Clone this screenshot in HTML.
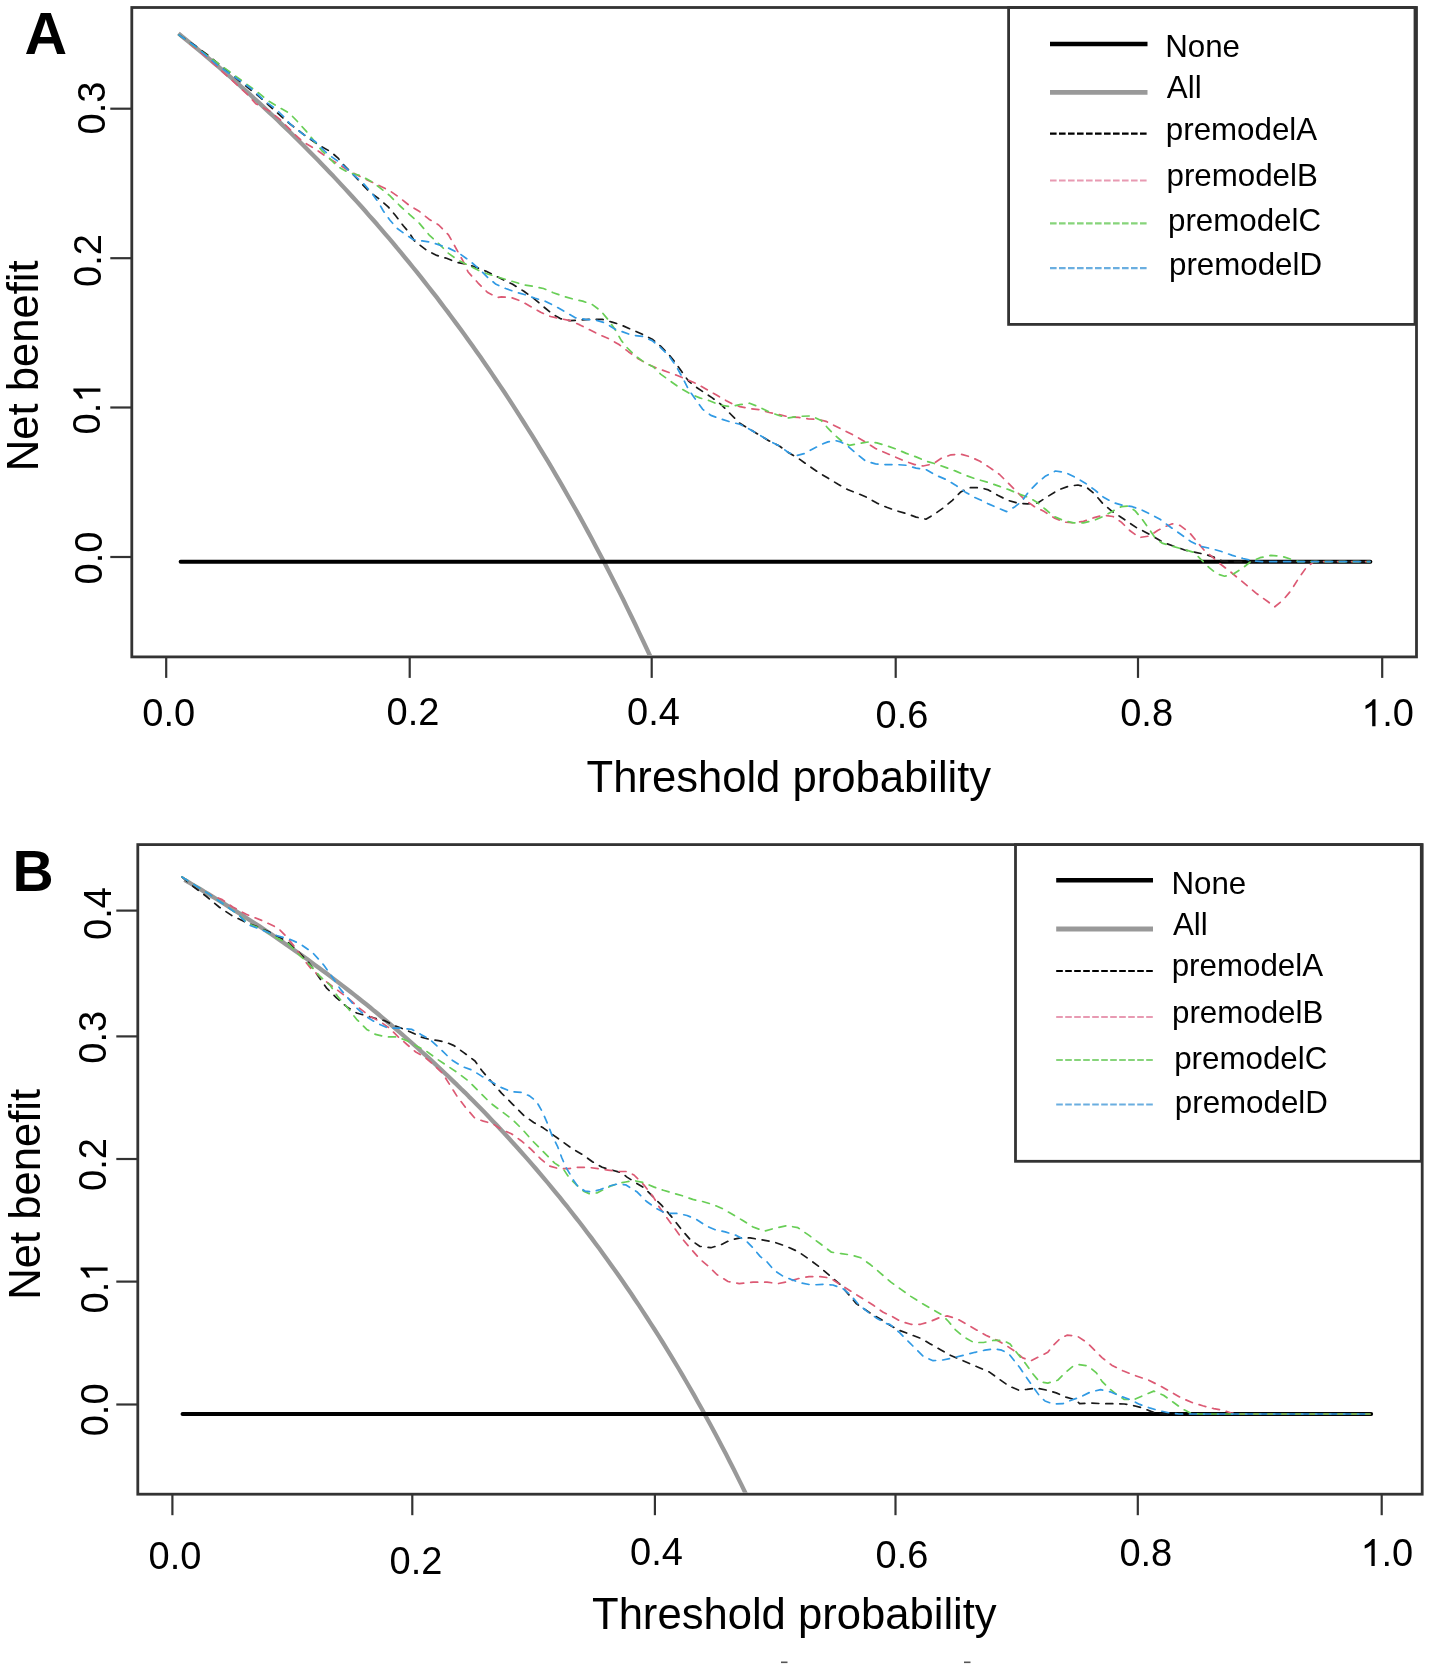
<!DOCTYPE html><html><head><meta charset="utf-8"><style>html,body{margin:0;padding:0;background:#fff;}svg{display:block;filter:blur(0.35px);}text{font-family:"Liberation Sans",sans-serif;fill:#000;}</style></head><body>
<svg width="1430" height="1670" viewBox="0 0 1430 1670">
<rect width="1430" height="1670" fill="#fff"/>
<defs><clipPath id="clipA"><rect x="133" y="9" width="1282" height="646.5"/></clipPath><clipPath id="clipB"><rect x="139" y="846.3" width="1281" height="646.5"/></clipPath></defs>
<rect x="131.8" y="7.5" width="1284.7" height="649.4" fill="none" stroke="#333" stroke-width="2.8"/>
<line x1="110.3" y1="557" x2="131.8" y2="557" stroke="#333" stroke-width="2.2"/>
<text transform="translate(102.1,584.5) rotate(-90)" font-size="38" font-weight="normal">0.0</text>
<line x1="110.3" y1="407.5" x2="131.8" y2="407.5" stroke="#333" stroke-width="2.2"/>
<g transform="translate(100.4,434.5) rotate(-90)"><text x="0" y="0" font-size="38" font-weight="normal">0. </text><path d="M42.8,0 L46.1,0 L46.1,-27 L43.5,-27 L42,-24.9 L39.3,-22.5 L36.1,-20.7 L36.1,-17.4 L38.9,-18.6 L42.8,-21.1 Z" fill="#000"/></g>
<line x1="110.3" y1="258.2" x2="131.8" y2="258.2" stroke="#333" stroke-width="2.2"/>
<text transform="translate(100.8,287) rotate(-90)" font-size="38" font-weight="normal">0.2</text>
<line x1="110.3" y1="108.7" x2="131.8" y2="108.7" stroke="#333" stroke-width="2.2"/>
<text transform="translate(105.2,134.5) rotate(-90)" font-size="38" font-weight="normal">0.3</text>
<line x1="166.2" y1="656.9" x2="166.2" y2="677.9" stroke="#333" stroke-width="2.2"/>
<text transform="translate(142.3,725.6)" font-size="38" font-weight="normal">0.0</text>
<line x1="409.7" y1="656.9" x2="409.7" y2="677.9" stroke="#333" stroke-width="2.2"/>
<text transform="translate(386.5,725.3)" font-size="38" font-weight="normal">0.2</text>
<line x1="651.7" y1="656.9" x2="651.7" y2="677.9" stroke="#333" stroke-width="2.2"/>
<text transform="translate(627,724.9)" font-size="38" font-weight="normal">0.4</text>
<line x1="895.7" y1="656.9" x2="895.7" y2="677.9" stroke="#333" stroke-width="2.2"/>
<text transform="translate(875.5,727.6)" font-size="38" font-weight="normal">0.6</text>
<line x1="1138" y1="656.9" x2="1138" y2="677.9" stroke="#333" stroke-width="2.2"/>
<text transform="translate(1120.2,726.3)" font-size="38" font-weight="normal">0.8</text>
<line x1="1382.2" y1="656.9" x2="1382.2" y2="677.9" stroke="#333" stroke-width="2.2"/>
<g transform="translate(1361.1,726.3)"><text x="0" y="0" font-size="38" font-weight="normal"> .0</text><path d="M11.1,0 L14.4,0 L14.4,-27 L11.9,-27 L10.3,-24.9 L7.6,-22.5 L4.4,-20.7 L4.4,-17.4 L7.2,-18.6 L11.1,-21.1 Z" fill="#000"/></g>
<text transform="translate(586.5,791.7)" font-size="43.6" font-weight="normal">Threshold probability</text>
<text transform="translate(38.2,471.2) rotate(-90)" font-size="43.6" font-weight="normal">Net benefit</text>
<text transform="translate(24.5,54.2)" font-size="59" font-weight="bold">A</text>
<g clip-path="url(#clipA)">
<polyline points="178.4,33.4 182.3,36.6 186.3,39.9 190.3,43.1 194.2,46.4 198.2,49.6 202.2,52.9 206.2,56.3 210.1,59.6 214.1,63 218.1,66.4 222.1,69.8 226,73.3 230,76.7 234,80.2 237.9,83.7 241.9,87.3 245.9,90.9 249.9,94.4 253.8,98.1 257.8,101.7 261.8,105.4 265.7,109.1 269.7,112.8 273.7,116.5 277.7,120.3 281.6,124.1 285.6,127.9 289.6,131.8 293.6,135.7 297.5,139.6 301.5,143.5 305.5,147.5 309.4,151.5 313.4,155.5 317.4,159.6 321.4,163.7 325.3,167.8 329.3,172 333.3,176.1 337.3,180.4 341.2,184.6 345.2,188.9 349.2,193.2 353.1,197.5 357.1,201.9 361.1,206.3 365.1,210.8 369,215.3 373,219.8 377,224.3 380.9,228.9 384.9,233.6 388.9,238.2 392.9,242.9 396.8,247.7 400.8,252.4 404.8,257.3 408.8,262.1 412.7,267 416.7,271.9 420.7,276.9 424.6,281.9 428.6,287 432.6,292.1 436.6,297.2 440.5,302.4 444.5,307.7 448.5,312.9 452.4,318.3 456.4,323.6 460.4,329.1 464.4,334.5 468.3,340 472.3,345.6 476.3,351.2 480.3,356.8 484.2,362.5 488.2,368.3 492.2,374.1 496.1,380 500.1,385.9 504.1,391.8 508.1,397.9 512,403.9 516,410.1 520,416.3 523.9,422.5 527.9,428.8 531.9,435.2 535.9,441.6 539.8,448.1 543.8,454.6 547.8,461.2 551.8,467.9 555.7,474.6 559.7,481.4 563.7,488.3 567.6,495.2 571.6,502.2 575.6,509.3 579.6,516.4 583.5,523.6 587.5,530.9 591.5,538.2 595.4,545.7 599.4,553.2 603.4,560.7 607.4,568.4 611.3,576.1 615.3,584 619.3,591.9 623.3,599.8 627.2,607.9 631.2,616 635.2,624.3 639.1,632.6 643.1,641 647.1,649.5 651.1,658.1 651.5,659" fill="none" stroke="#999" stroke-width="4.3" stroke-linejoin="round" stroke-linecap="butt"/>
<polyline points="180.6,561.7 1370.4,561.7" fill="none" stroke="#000" stroke-width="3.9" stroke-linejoin="round" stroke-linecap="round"/>
<polyline points="179,35 195,45.5 209.6,56.5 225,69 240,81.5 258.9,96.3 269.4,105.8 279.9,115.2 288.3,122.6 297.7,129.9 307.2,137.2 319,145.2 330.3,151.5 337.8,157.8 344.1,165.4 352.9,174.2 361,183 369.3,191.8 378.1,198.1 388.2,206.9 395.7,215.7 403.3,225.8 409.4,232.9 414.3,240.7 419.2,244.6 427,250.5 436.8,255.4 446.6,258.3 456.4,262.2 466.2,264.2 475.9,267.1 485.7,271.1 495.5,275.9 505.3,280.8 512.7,284.3 523.9,291.3 533.7,298.3 543.5,306.7 551.9,313.7 560.3,318.6 570.1,320.7 579.9,320 591,319.3 602.2,319.3 612,322.1 620,324.5 631.2,329.4 642.4,334.3 652.2,339.2 660.6,346.2 667.6,353.1 674.5,361.5 681.5,371.3 688.5,381.1 695.5,386.7 703.9,392.3 712.3,397.9 720.7,404.2 730,413.5 739.8,423.3 749.6,429.2 759.4,435 769.2,440.9 779,445.8 788.7,452.7 798.5,458.5 808.3,465.4 818.1,472.2 827.9,478.1 837.7,484 847.5,489.5 857.3,493.3 867.1,497.5 876.9,503.1 886.7,507.3 896.5,510.8 906.3,513.6 916.1,517.1 925.9,519.2 934.3,514.3 944.1,507.3 952.4,500.3 960.8,491.9 969.2,487.7 980.4,487.7 988.4,489.9 998.2,495.5 1008,500.4 1017.8,503.2 1027.6,503.9 1037.3,503.2 1047.1,496.9 1058.3,489.9 1068.1,486.4 1077.9,485 1086.3,487.1 1094.7,494.1 1103.1,503.9 1111.5,510.9 1119.9,516.5 1128.3,522.1 1136.6,527.7 1145,531.9 1154.8,537.5 1163.1,542.3 1173.8,546.2 1184.6,550 1195.4,552.3 1206.2,554.6 1215.4,557.7 1221.5,560.8 1230.8,561.6 1370,561.6" fill="none" stroke="#1a1a1a" stroke-width="1.7" stroke-dasharray="7 7" stroke-linejoin="round" stroke-linecap="round"/>
<polyline points="179,35 206.5,57 230,78.5 248.4,95.5 255.8,103.7 269.4,111 279.9,119.4 295.6,135.1 302.6,141.5 315.2,149 327.8,157.8 340.4,165.4 350.4,171.7 363,178 380,185.9 389.8,190.8 399.6,197.6 409.4,205.5 419.2,211.3 429,219.2 438.7,225 448.5,234.8 453.4,243.6 458.3,252.5 463.2,261.3 468.1,272 477.9,282.8 487.7,292.6 497.5,297.5 501.5,296.9 511.3,297.6 521.1,301.1 530.9,306.7 540.7,312.3 550.5,316.5 560.3,318.6 570.1,320.7 579.9,324.9 589.7,329.8 599.4,334.7 609.2,338.9 619,344.5 628.4,351.7 638.2,358.7 648,364.3 657.8,368.5 667.6,372 677.3,375.5 687.1,379.7 696.9,383.9 706.7,389.5 716.5,395.1 726.3,400.7 732,403.7 739.8,406.6 749.6,408.6 759.4,409.6 769.2,412.5 779,414.5 788.7,416.9 798.5,417.4 808.3,418.9 818.1,419.4 826,421.3 835.7,426.2 845.5,431.1 855.3,436 865.1,441.9 875.5,448.5 885.3,452.7 895.1,456.9 904.9,461.1 914.7,464.6 923.1,466 932.9,463.9 941.3,458.3 951,454.8 960.8,454.1 970.6,456.9 980,461.3 989.8,467.6 999.6,474.5 1008,482.9 1016.4,491.3 1024.8,499.7 1034.5,506.7 1044.3,511.6 1054.1,517.9 1063.9,522.1 1073.7,522.8 1083.5,521.4 1093.3,517.9 1103.1,515.1 1112.9,516.5 1121.3,522.1 1129.7,530.5 1139.4,537.5 1149.2,536.1 1157.6,530.5 1166.2,526.2 1172.3,523.8 1180,525.4 1189.2,532.3 1196.9,541.5 1204.6,550.8 1212.3,556.9 1220,563.8 1229.2,570.8 1238.5,578.5 1247.7,586.2 1256.9,593.8 1267.7,601.5 1274.6,606.9 1283.1,600 1290.8,590.8 1298.5,578.5 1306.2,567.7 1313.8,561.6 1370,561.6" fill="none" stroke="#dc5a74" stroke-width="1.7" stroke-dasharray="7 7" stroke-linejoin="round" stroke-linecap="round"/>
<polyline points="179,35 201.2,51.2 230,72 258.9,93.2 269.4,101.6 279.9,107.9 289.3,113.1 297,121 306.4,131.4 321.5,150.3 337.8,166.6 349.2,172.9 360.5,175.5 371.8,181.8 380,187.8 389.8,195.7 399.6,205.5 409.4,214.3 419.2,223.1 429,234.8 438.7,243.6 448.5,253.4 458.3,260.3 468.1,265.2 477.9,270.1 487.7,274 497.5,276.9 507.3,279.9 517.1,282.8 523.9,285 533.7,286.4 543.5,288.5 553.3,292.7 563.1,296.2 572.9,299 582.7,301.1 592.4,304.6 600.8,310.9 607.8,319.3 614.8,329.1 621.4,340.6 627,347.6 635.4,355.9 645.2,362.9 653.6,367.1 660.6,374.1 670.3,381.1 680.1,388.1 689.9,393.7 699.7,397.9 709.5,400.7 719.3,404.9 730,406.6 739.8,404.7 749.6,403.2 759.4,407.1 769.2,412 779,415.5 788.7,417.9 798.5,416.4 811.3,415.9 821.1,420.4 827.9,428.2 835.7,436 842.6,441.9 849.4,445.3 859.2,443.4 869,441.9 876.9,442.9 886.7,445.7 896.5,449.2 906.3,453.4 916.1,456.9 925.9,461.1 935.7,463.9 945.5,467.4 955.2,470.9 965,475.1 974.8,478.6 980,480.1 989.8,482.9 999.6,486.4 1009.4,489.9 1019.2,494.1 1029,497.6 1037.3,502.5 1045.7,509.5 1054.1,516.5 1063.9,520.7 1073.7,522.8 1083.5,522.8 1093.3,520.7 1103.1,516.5 1112.9,510.9 1121.3,506.7 1128.3,506 1135.2,510.9 1142.2,519.3 1149.2,529.1 1154.8,537.5 1162,543.1 1172.3,546.2 1183.1,549.2 1193.8,552.3 1201.5,560 1209.2,567.7 1216.9,573.8 1224.6,576.2 1233.8,573.8 1243.1,567.7 1250.8,561.5 1260,557.7 1270.8,555.4 1281.5,556.2 1290.8,559.2 1298.5,561.6 1370,561.6" fill="none" stroke="#68ce56" stroke-width="1.7" stroke-dasharray="7 7" stroke-linejoin="round" stroke-linecap="round"/>
<polyline points="179,35 195,46 217,64.9 227.5,72.2 240,80.6 251.6,89 264.2,100.5 275.7,108.9 283,116 290,123.8 302.6,133.9 315.2,141.5 327.8,154.1 340.4,162.9 352.9,174.2 363,183 371.8,193.1 378.1,201.9 383.2,210.7 389.4,219.5 397,228.3 405.8,234.6 413.4,239.7 422.2,240.9 431,242.2 440,245.2 448.4,248 459.6,253.6 469.4,260.6 479.2,269 487.6,277.3 496,284.3 505.7,288.5 515.5,292 525.3,294.8 535.1,298.3 544.9,301.1 556.1,306.7 565.9,312.3 575.7,317.9 585.5,319.3 595.2,320 605,322.8 614.8,329.1 620,330.8 631.2,335 642.4,336.4 652.2,340.6 660.6,347.6 669,355.9 675.9,365.7 682.9,378.3 688.5,389.5 695.5,399.3 702.5,409.1 710.9,415.4 720.7,418.9 730,421.8 739.8,424.3 749.6,429.2 759.4,435 769.2,440.9 779,445.8 788.7,452.7 796.6,455.6 804.4,453.6 813.2,448.7 823,443.8 827.9,441.9 834.8,440.4 840.6,441.9 847.5,445.8 855.3,452.7 865.7,461.1 875.5,463.9 885.3,464.6 896.5,464.6 906.3,465.3 916.1,468.1 925.9,469.5 935.7,475.1 945.5,479.3 955.2,484.9 965,491.9 974.8,497.5 980,499.7 988.4,503.9 998.2,508.1 1006.6,511.6 1015,506.7 1022,501.1 1029,491.3 1037.3,482.9 1045.7,475.9 1055.5,471 1065.3,472.4 1075.1,477.3 1084.9,482.9 1094.7,489.9 1103.1,496.9 1112.9,502.5 1122.7,505.3 1132.4,506.7 1142.2,510.2 1152,515.1 1160,519.2 1169.2,526.2 1180,533.8 1190.8,541.5 1200,546.2 1210.8,548.5 1221.5,551.5 1232.3,555.4 1243.1,558.5 1252.3,560.8 1262,561.6 1370,561.6" fill="none" stroke="#319ae4" stroke-width="1.7" stroke-dasharray="7 7" stroke-linejoin="round" stroke-linecap="round"/>
</g>
<rect x="1008.6" y="7.5" width="406.4" height="316.9" fill="none" stroke="#333" stroke-width="2.8"/>
<line x1="1050" y1="44" x2="1147.5" y2="44" stroke="#000" stroke-width="4.4"/>
<text transform="translate(1165.2,57)" font-size="31.3" font-weight="normal">None</text>
<line x1="1050" y1="92.3" x2="1147.5" y2="92.3" stroke="#999" stroke-width="4.8"/>
<text transform="translate(1166.8,97.8)" font-size="31.3" font-weight="normal">All</text>
<line x1="1050" y1="133.6" x2="1147.5" y2="133.6" stroke="#000" stroke-width="2.2" stroke-dasharray="6.6 2.4"/>
<text transform="translate(1165.8,140)" font-size="31.3" font-weight="normal">premodelA</text>
<line x1="1050" y1="180.5" x2="1147.5" y2="180.5" stroke="#e89ab2" stroke-width="2.2" stroke-dasharray="6.6 2.4"/>
<text transform="translate(1166.5,186)" font-size="31.3" font-weight="normal">premodelB</text>
<line x1="1050" y1="223.3" x2="1147.5" y2="223.3" stroke="#86d47a" stroke-width="2.2" stroke-dasharray="6.6 2.4"/>
<text transform="translate(1168,231.4)" font-size="31.3" font-weight="normal">premodelC</text>
<line x1="1050" y1="268.1" x2="1147.5" y2="268.1" stroke="#6aaee0" stroke-width="2.2" stroke-dasharray="6.6 2.4"/>
<text transform="translate(1169,274.8)" font-size="31.3" font-weight="normal">premodelD</text>
<rect x="137.8" y="844.6" width="1284.4" height="649.6" fill="none" stroke="#333" stroke-width="2.8"/>
<line x1="116.3" y1="1404.5" x2="137.8" y2="1404.5" stroke="#333" stroke-width="2.2"/>
<text transform="translate(107.6,1436.3) rotate(-90)" font-size="38" font-weight="normal">0.0</text>
<line x1="116.3" y1="1281.6" x2="137.8" y2="1281.6" stroke="#333" stroke-width="2.2"/>
<g transform="translate(107.6,1313.5) rotate(-90)"><text x="0" y="0" font-size="38" font-weight="normal">0. </text><path d="M42.8,0 L46.1,0 L46.1,-27 L43.5,-27 L42,-24.9 L39.3,-22.5 L36.1,-20.7 L36.1,-17.4 L38.9,-18.6 L42.8,-21.1 Z" fill="#000"/></g>
<line x1="116.3" y1="1159" x2="137.8" y2="1159" stroke="#333" stroke-width="2.2"/>
<text transform="translate(106.3,1191) rotate(-90)" font-size="38" font-weight="normal">0.2</text>
<line x1="116.3" y1="1036.4" x2="137.8" y2="1036.4" stroke="#333" stroke-width="2.2"/>
<text transform="translate(106.3,1063.7) rotate(-90)" font-size="38" font-weight="normal">0.3</text>
<line x1="116.3" y1="910.6" x2="137.8" y2="910.6" stroke="#333" stroke-width="2.2"/>
<text transform="translate(111.4,940) rotate(-90)" font-size="38" font-weight="normal">0.4</text>
<line x1="172.4" y1="1494.2" x2="172.4" y2="1515.2" stroke="#333" stroke-width="2.2"/>
<text transform="translate(148.5,1568.5)" font-size="38" font-weight="normal">0.0</text>
<line x1="412.3" y1="1494.2" x2="412.3" y2="1515.2" stroke="#333" stroke-width="2.2"/>
<text transform="translate(389.5,1573.7)" font-size="38" font-weight="normal">0.2</text>
<line x1="654.9" y1="1494.2" x2="654.9" y2="1515.2" stroke="#333" stroke-width="2.2"/>
<text transform="translate(630.1,1564.6)" font-size="38" font-weight="normal">0.4</text>
<line x1="895.5" y1="1494.2" x2="895.5" y2="1515.2" stroke="#333" stroke-width="2.2"/>
<text transform="translate(875.5,1567.7)" font-size="38" font-weight="normal">0.6</text>
<line x1="1137.8" y1="1494.2" x2="1137.8" y2="1515.2" stroke="#333" stroke-width="2.2"/>
<text transform="translate(1119.4,1565.7)" font-size="38" font-weight="normal">0.8</text>
<line x1="1381.7" y1="1494.2" x2="1381.7" y2="1515.2" stroke="#333" stroke-width="2.2"/>
<g transform="translate(1360.3,1566)"><text x="0" y="0" font-size="38" font-weight="normal"> .0</text><path d="M11.1,0 L14.4,0 L14.4,-27 L11.9,-27 L10.3,-24.9 L7.6,-22.5 L4.4,-20.7 L4.4,-17.4 L7.2,-18.6 L11.1,-21.1 Z" fill="#000"/></g>
<text transform="translate(592,1628.6)" font-size="43.6" font-weight="normal">Threshold probability</text>
<text transform="translate(39.6,1299.8) rotate(-90)" font-size="43.6" font-weight="normal">Net benefit</text>
<text transform="translate(12.6,891)" font-size="57" font-weight="bold">B</text>
<g clip-path="url(#clipB)">
<polyline points="184.5,879.9 188.4,882.2 192.4,884.5 196.3,886.9 200.3,889.2 204.2,891.6 208.2,893.9 212.1,896.3 216.1,898.8 220,901.2 224,903.6 227.9,906.1 231.9,908.6 235.8,911.1 239.8,913.6 243.7,916.1 247.7,918.7 251.6,921.2 255.6,923.8 259.6,926.4 263.5,929 267.5,931.7 271.4,934.3 275.4,937 279.3,939.7 283.3,942.4 287.2,945.2 291.2,947.9 295.1,950.7 299.1,953.5 303,956.3 307,959.1 310.9,962 314.9,964.9 318.8,967.8 322.8,970.7 326.7,973.6 330.7,976.6 334.6,979.6 338.6,982.6 342.5,985.6 346.5,988.7 350.4,991.8 354.4,994.9 358.3,998 362.3,1001.2 366.2,1004.3 370.2,1007.5 374.1,1010.8 378.1,1014 382,1017.3 386,1020.6 389.9,1023.9 393.9,1027.3 397.8,1030.7 401.8,1034.1 405.7,1037.5 409.7,1041 413.6,1044.5 417.6,1048 421.5,1051.6 425.5,1055.1 429.4,1058.7 433.4,1062.4 437.3,1066.1 441.3,1069.8 445.2,1073.5 449.2,1077.3 453.1,1081.1 457.1,1084.9 461,1088.8 465,1092.6 468.9,1096.6 472.9,1100.5 476.8,1104.5 480.8,1108.6 484.7,1112.6 488.7,1116.8 492.6,1120.9 496.6,1125.1 500.5,1129.3 504.5,1133.5 508.4,1137.8 512.4,1142.2 516.3,1146.5 520.3,1151 524.2,1155.4 528.2,1159.9 532.1,1164.4 536.1,1169 540,1173.6 544,1178.3 547.9,1183 551.9,1187.8 555.8,1192.6 559.8,1197.4 563.7,1202.3 567.7,1207.2 571.6,1212.2 575.6,1217.3 579.5,1222.3 583.5,1227.5 587.4,1232.7 591.4,1237.9 595.3,1243.2 599.3,1248.5 603.2,1253.9 607.2,1259.4 611.1,1264.9 615.1,1270.5 619,1276.1 623,1281.8 626.9,1287.5 630.9,1293.3 634.8,1299.2 638.8,1305.1 642.7,1311.1 646.7,1317.2 650.6,1323.3 654.6,1329.5 658.5,1335.7 662.5,1342 666.4,1348.4 670.4,1354.9 674.3,1361.4 678.3,1368 682.2,1374.7 686.2,1381.5 690.1,1388.3 694.1,1395.2 698,1402.2 702,1409.3 705.9,1416.5 709.9,1423.7 713.8,1431 717.8,1438.5 721.7,1446 725.7,1453.6 729.6,1461.3 733.6,1469 737.5,1476.9 741.5,1484.9 745.4,1493 746.9,1496" fill="none" stroke="#999" stroke-width="4.3" stroke-linejoin="round" stroke-linecap="butt"/>
<polyline points="182.5,1414 1371.2,1414" fill="none" stroke="#000" stroke-width="3.9" stroke-linejoin="round" stroke-linecap="round"/>
<polyline points="182,877 193.9,887 206.5,896.5 219.1,907 231.6,915.4 244.2,921.6 257.9,926.9 269.4,932.1 279.9,937.4 288.3,942.6 298.8,952.1 308.8,962.7 317.6,975.2 326.4,987.8 336.5,997.9 346.6,1006.7 356.6,1013 365.5,1015.5 374.3,1018 384.3,1020.6 394.4,1025.6 404.5,1029.4 413.3,1033.2 420.8,1036.9 429.7,1039.4 438.5,1040.7 445.6,1042.1 454,1045.6 463.8,1052.6 475,1061 482,1070.8 491.7,1082 501.5,1093.1 512.7,1104.3 523.9,1115.5 533.7,1122.5 543.5,1128.1 553.3,1135.1 563.1,1142.1 572.9,1149.1 582.7,1154.7 592.4,1161.7 602.2,1167.3 612,1170.1 621.8,1172.9 627,1177.1 636.8,1183.4 643.8,1187.6 652.2,1195.9 662,1205.7 671.7,1216.9 681.5,1229.5 689.9,1239.3 699.7,1246.3 710.9,1247.7 720.7,1244.9 730.5,1240 740.3,1237.9 750.1,1237.9 760.1,1239.6 772.7,1241.7 785.3,1245.9 797.9,1251.5 809.1,1259.2 820.3,1267.6 830.1,1275.9 839.9,1284.3 848.3,1294.1 856.6,1303.9 865,1309.5 873.4,1315.1 883.2,1320.7 888.4,1324.3 898.2,1329.9 909.4,1334.1 920.6,1338.3 930.3,1343.9 940.1,1349.5 949.9,1355.1 959.7,1359.3 969.5,1363.5 979.3,1367.7 989.1,1371.9 998.9,1378.9 1008.7,1385.9 1018.5,1390.1 1026.9,1389.4 1036.6,1388 1046.4,1390.1 1056.2,1392.9 1066,1397.1 1075.8,1399.9 1079.6,1403.7 1090.8,1403 1102,1403.7 1113.1,1403.7 1124.3,1404 1134.1,1405.8 1142.5,1407.9 1150.9,1411.4 1157.9,1413.5 1165,1414 1370,1414" fill="none" stroke="#1a1a1a" stroke-width="1.7" stroke-dasharray="7 7" stroke-linejoin="round" stroke-linecap="round"/>
<polyline points="182,877 209.6,894.4 222.2,899.6 232.7,907 246.3,914.3 262.1,920.6 277.8,927.9 286.2,936.3 294.6,946.8 301.9,957.3 311.3,969 321.4,977.8 327.7,982.8 337.8,990.4 347.8,997.9 359.2,1008 370.5,1016.8 380.6,1021.8 389.4,1028.1 398.2,1036.9 407,1044.5 415.8,1052 424.6,1057.1 433.4,1064.6 442.8,1073.6 449.8,1084.8 456.8,1095.9 465.2,1107.1 475,1118.3 483.4,1121.1 493.1,1123.9 501.5,1129.5 511.3,1133.7 521.1,1140.7 530.9,1149.1 540.7,1158.9 549.1,1165.9 558.9,1168.7 568.7,1168.7 578.5,1167.3 588.3,1167.3 598,1168.7 607.8,1170.1 617.6,1171.5 627.4,1171.5 634,1175 643.8,1184.8 653.6,1197.3 659.2,1207.1 666.2,1216.9 674.5,1228.1 681.5,1237.9 689.9,1247.7 699.7,1258.9 708.4,1266.2 716.8,1274.5 728,1281.5 739.2,1283.6 753.1,1282.2 767.1,1282.2 778.3,1283.6 788.1,1281.5 797.9,1278.7 809.1,1276.6 820.3,1276.6 830.1,1278 839.9,1284.3 851,1291.3 862.2,1298.3 873.4,1305.3 883.2,1312.3 891.2,1315.9 901,1321.5 910.8,1324.3 920.6,1324.3 930.3,1321.5 940.1,1317.3 947.1,1315.9 956.9,1318.7 966.7,1324.3 976.5,1329.9 986.3,1335.5 997.5,1340.4 1005.9,1345.3 1014.3,1350.9 1022.7,1357.9 1031,1360.7 1039.4,1356.5 1047.8,1352.3 1053.4,1345.3 1060.4,1338.3 1067,1335.2 1076.8,1335.9 1086.6,1342.2 1095,1350.6 1102,1357.6 1111.7,1365.2 1122.9,1370.8 1135.5,1375.7 1148.1,1379.9 1160.7,1386.2 1171.9,1392.5 1181.7,1398.1 1191.5,1402.3 1202.7,1405.8 1213.8,1408.6 1222.2,1410 1230.6,1412.8 1239,1414 1370,1414" fill="none" stroke="#dc5a74" stroke-width="1.7" stroke-dasharray="7 7" stroke-linejoin="round" stroke-linecap="round"/>
<polyline points="182,877 209.6,894.4 237.9,914.3 248.4,923.7 262.1,929 275.7,937.4 288.3,943.7 300.9,956.3 310.1,965.2 320.1,976.5 330.2,985.3 337.8,996.6 347.8,1008 356.6,1019.3 366.7,1029.4 375.5,1034.4 385.6,1036.9 396.9,1036.9 407,1040.7 415.8,1045.7 425.9,1050.8 436,1058.3 444.2,1063.8 456.8,1072.2 468,1080.6 479.2,1091.7 490.3,1102.9 501.5,1111.3 512.7,1119.7 522.5,1129.5 532.3,1140.7 543.5,1151.9 554.7,1163.1 563.1,1168.7 569.3,1177.8 576,1184.5 583.6,1191.2 589.4,1193.7 597,1192.9 603.7,1189.5 612,1185.6 618,1183.5 625.6,1182 634,1180.6 643.8,1182.7 653.6,1186.9 663.4,1190.3 673.1,1193.1 682.9,1195.9 692.7,1199.4 702.5,1201.5 712.3,1204.3 722.1,1208.5 731.9,1214.1 742,1220 753.1,1227 764.3,1231.2 774.1,1228.4 786.7,1225.6 797.9,1227.7 809.1,1235.4 820.3,1243.8 831.5,1252.2 841.3,1253.6 851,1255 860.8,1257.8 870.6,1264.8 880.4,1273.1 891.2,1282.4 901,1289.4 910.8,1296.4 922,1303.4 931.7,1309 941.5,1314.5 948.5,1321.5 955.5,1329.9 963.9,1336.9 973.7,1342.5 983.5,1342.5 993.3,1340.4 1003.1,1340.4 1010.1,1343.9 1014.3,1349.5 1019.9,1356.5 1025.5,1363.5 1032.4,1373.3 1039.4,1381.7 1047.8,1383.1 1057.6,1380.3 1066,1371.9 1073,1366.3 1078.2,1364.5 1088,1365.9 1096.4,1372.9 1102,1381.3 1109,1388.3 1115.9,1393.9 1124.3,1399.5 1134.1,1399.5 1143.9,1395.3 1153.7,1391.1 1163.5,1395.3 1173.3,1402.3 1183.1,1409.3 1191.5,1413.5 1200,1414 1370,1414" fill="none" stroke="#68ce56" stroke-width="1.7" stroke-dasharray="7 7" stroke-linejoin="round" stroke-linecap="round"/>
<polyline points="182,877 209.6,894.4 237.9,914.3 248.4,924.8 262.1,930 275.7,935.3 290.4,939.5 300,943.8 312.6,952.6 323.9,965.2 332.7,977.8 340.3,989.1 347.8,997.9 356.6,1008 366.7,1016.8 376.8,1023.1 388.1,1028.1 399.4,1028.1 412,1029.4 420.8,1034.4 429.7,1039.4 439.7,1048.3 451.2,1059.6 462.4,1066.6 472.2,1070.1 482,1076.4 491.7,1082 501.5,1087.6 511.3,1091.7 521.1,1092.4 529.5,1095.9 536.5,1101.5 542.1,1111.3 547.7,1123.9 551.9,1135.1 557.5,1146.3 561.7,1157.5 565.9,1167.3 570.1,1174.3 573.5,1180.3 577.7,1186.2 585.2,1191.2 592,1192 600.3,1189.5 608.7,1186.2 617.1,1184.1 625.6,1184.8 636.8,1191.7 646.6,1201.5 656.4,1208.5 666.2,1213.4 677.3,1213.4 687.1,1215.5 696.9,1219.7 705.6,1225.6 715.4,1229.8 725.2,1231.9 736.4,1235.4 746.2,1241 753.1,1248 760.1,1256.4 767.1,1262 774.1,1270.3 782.5,1275.9 790.9,1279.4 800.7,1282.9 811.9,1285 823.1,1284.3 832.9,1285 842.7,1288.5 851,1295.5 858,1303.9 866.4,1310.9 876.2,1317.9 886,1323.5 889.8,1324.3 899.6,1332.7 908,1341.1 915,1348.1 923.4,1356.5 933.1,1360.7 942.9,1360 952.7,1357.9 963.9,1355.1 975.1,1352.3 984.9,1350.2 994.7,1348.8 1001.7,1350.2 1008.7,1353.7 1014.3,1360.7 1019.9,1367.7 1025.5,1376.1 1032.4,1385.9 1039.4,1395.7 1045,1401 1053,1404 1062.8,1403.7 1071.2,1400.2 1081,1396.7 1090.8,1391.8 1100.6,1389.7 1110.3,1391.8 1120.1,1396 1129.9,1399.5 1139.7,1404.4 1149.5,1407.9 1159.3,1410.7 1169.1,1412.8 1178.9,1414 1370,1414" fill="none" stroke="#319ae4" stroke-width="1.7" stroke-dasharray="7 7" stroke-linejoin="round" stroke-linecap="round"/>
</g>
<rect x="1015.5" y="844.6" width="405.8" height="316.7" fill="none" stroke="#333" stroke-width="2.8"/>
<line x1="1056.2" y1="880.2" x2="1153" y2="880.2" stroke="#000" stroke-width="4.4"/>
<text transform="translate(1171.4,893.7)" font-size="31.3" font-weight="normal">None</text>
<line x1="1056.2" y1="929" x2="1153" y2="929" stroke="#999" stroke-width="4.8"/>
<text transform="translate(1173,934.6)" font-size="31.3" font-weight="normal">All</text>
<line x1="1056.2" y1="971" x2="1153" y2="971" stroke="#000" stroke-width="2.2" stroke-dasharray="6.6 2.4"/>
<text transform="translate(1171.7,976)" font-size="31.3" font-weight="normal">premodelA</text>
<line x1="1056.2" y1="1017" x2="1153" y2="1017" stroke="#e89ab2" stroke-width="2.2" stroke-dasharray="6.6 2.4"/>
<text transform="translate(1172,1023.2)" font-size="31.3" font-weight="normal">premodelB</text>
<line x1="1056.2" y1="1060" x2="1153" y2="1060" stroke="#86d47a" stroke-width="2.2" stroke-dasharray="6.6 2.4"/>
<text transform="translate(1174.2,1069.4)" font-size="31.3" font-weight="normal">premodelC</text>
<line x1="1056.2" y1="1104.5" x2="1153" y2="1104.5" stroke="#6aaee0" stroke-width="2.2" stroke-dasharray="6.6 2.4"/>
<text transform="translate(1174.8,1112.5)" font-size="31.3" font-weight="normal">premodelD</text>
<line x1="781" y1="1662.3" x2="787.5" y2="1662.3" stroke="#555" stroke-width="1.6"/><line x1="964" y1="1662.3" x2="970.5" y2="1662.3" stroke="#555" stroke-width="1.6"/>
</svg></body></html>
